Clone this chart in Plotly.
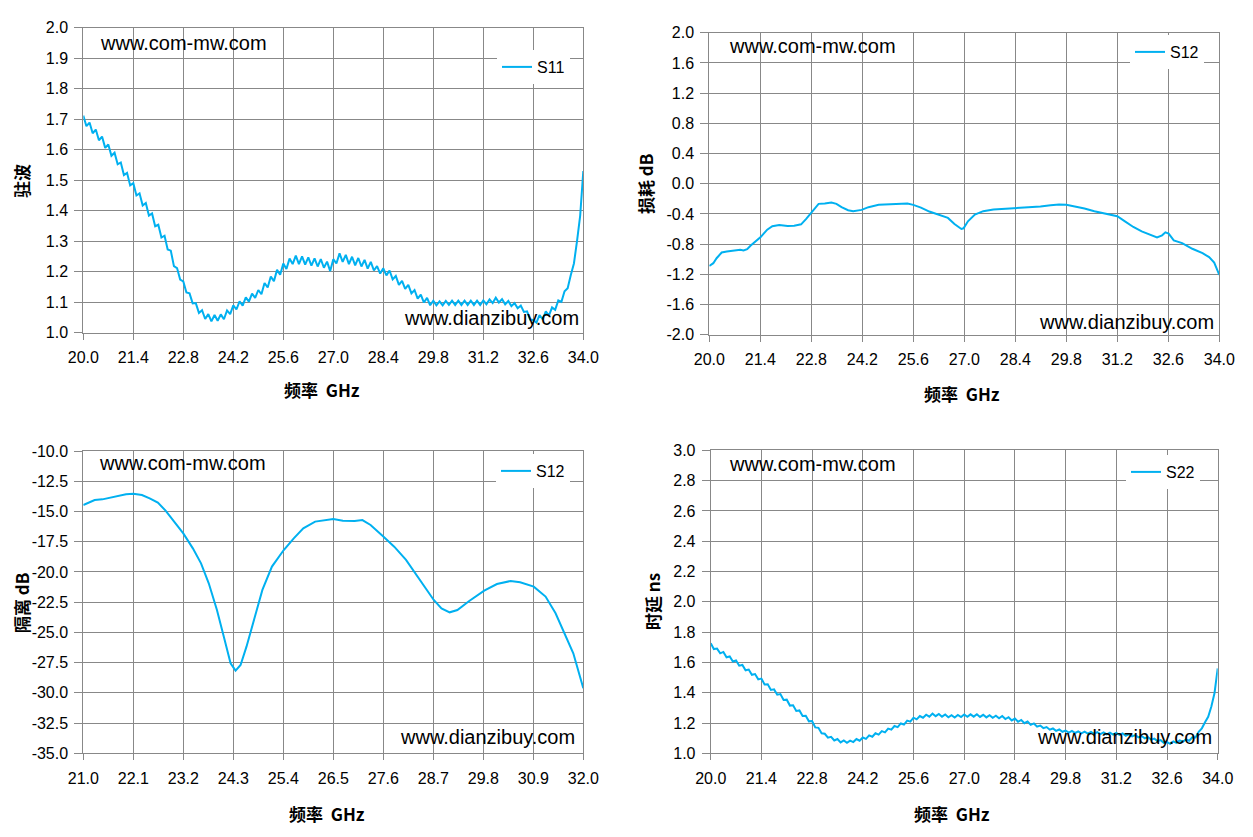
import numpy as np
import plotly.graph_objects as go
from plotly.subplots import make_subplots

# ---- data ----
# S11 VSWR and S22 group delay: sweep 20-34 GHz, 161 points
freq_sweep = np.linspace(20.0, 34.0, 161)

vswr = [
    1.712, 1.677, 1.689, 1.654, 1.666, 1.631, 1.643, 1.606, 1.617, 1.580,
    1.590, 1.552, 1.558, 1.517, 1.524, 1.483, 1.490, 1.450, 1.457, 1.417,
    1.425, 1.384, 1.391, 1.349, 1.354, 1.312, 1.318, 1.273, 1.269, 1.218,
    1.212, 1.174, 1.168, 1.132, 1.129, 1.096, 1.097, 1.065, 1.074, 1.045,
    1.061, 1.037, 1.058, 1.039, 1.060, 1.044, 1.073, 1.061, 1.090, 1.076,
    1.103, 1.089, 1.116, 1.102, 1.128, 1.114, 1.140, 1.126, 1.163, 1.148,
    1.184, 1.169, 1.206, 1.190, 1.227, 1.209, 1.243, 1.225, 1.253, 1.225,
    1.250, 1.223, 1.247, 1.220, 1.244, 1.217, 1.241, 1.213, 1.233, 1.202,
    1.241, 1.227, 1.260, 1.232, 1.255, 1.225, 1.249, 1.221, 1.245, 1.217,
    1.239, 1.210, 1.232, 1.204, 1.218, 1.194, 1.211, 1.188, 1.204, 1.175,
    1.186, 1.157, 1.170, 1.144, 1.157, 1.129, 1.140, 1.112, 1.125, 1.099,
    1.114, 1.090, 1.105, 1.090, 1.103, 1.090, 1.104, 1.091, 1.105, 1.091,
    1.105, 1.091, 1.105, 1.091, 1.105, 1.091, 1.105, 1.091, 1.106, 1.093,
    1.109, 1.097, 1.115, 1.099, 1.110, 1.093, 1.104, 1.087, 1.097, 1.080,
    1.089, 1.068, 1.070, 1.043, 1.042, 1.033, 1.058, 1.044, 1.070, 1.056,
    1.083, 1.075, 1.106, 1.101, 1.136, 1.146, 1.189, 1.227, 1.301, 1.384,
    1.530,
]

delay = [
    1.726, 1.688, 1.691, 1.660, 1.669, 1.634, 1.639, 1.606, 1.613, 1.578,
    1.583, 1.548, 1.553, 1.518, 1.523, 1.488, 1.493, 1.454, 1.456, 1.418,
    1.422, 1.387, 1.391, 1.352, 1.354, 1.315, 1.317, 1.280, 1.283, 1.246,
    1.248, 1.211, 1.213, 1.171, 1.168, 1.132, 1.129, 1.103, 1.109, 1.085,
    1.094, 1.072, 1.085, 1.069, 1.084, 1.074, 1.094, 1.083, 1.104, 1.095,
    1.118, 1.109, 1.132, 1.123, 1.146, 1.138, 1.163, 1.156, 1.180, 1.173,
    1.197, 1.190, 1.216, 1.209, 1.235, 1.224, 1.246, 1.235, 1.255, 1.242,
    1.262, 1.245, 1.260, 1.242, 1.256, 1.238, 1.252, 1.236, 1.253, 1.239,
    1.256, 1.241, 1.257, 1.242, 1.258, 1.240, 1.254, 1.237, 1.251, 1.234,
    1.248, 1.231, 1.246, 1.226, 1.238, 1.217, 1.229, 1.208, 1.220, 1.199,
    1.210, 1.188, 1.197, 1.176, 1.183, 1.166, 1.173, 1.156, 1.164, 1.148,
    1.157, 1.142, 1.150, 1.137, 1.148, 1.134, 1.145, 1.132, 1.143, 1.130,
    1.141, 1.128, 1.139, 1.127, 1.138, 1.125, 1.136, 1.124, 1.135, 1.121,
    1.131, 1.116, 1.126, 1.111, 1.120, 1.105, 1.114, 1.099, 1.107, 1.090,
    1.097, 1.081, 1.087, 1.069, 1.074, 1.063, 1.078, 1.069, 1.085, 1.076,
    1.092, 1.083, 1.106, 1.105, 1.142, 1.165, 1.205, 1.241, 1.309, 1.398,
    1.560,
]

# S12 insertion loss (dB)
loss_freq = [
    20.00, 20.11, 20.20, 20.34, 20.48, 20.67, 20.85, 20.94, 21.04, 21.13,
    21.27, 21.41, 21.59, 21.73, 21.92, 22.15, 22.33, 22.52, 22.66, 22.84,
    23.00, 23.17, 23.35, 23.49, 23.63, 23.81, 23.95, 24.18, 24.37, 24.65,
    24.93, 25.20, 25.44, 25.60, 25.81, 26.04, 26.27, 26.55, 26.73, 26.92,
    26.98, 27.10, 27.29, 27.52, 27.80, 28.07, 28.39, 28.72, 29.09, 29.37,
    29.60, 29.80, 30.02, 30.30, 30.57, 30.85, 31.20, 31.41, 31.64, 31.87,
    32.10, 32.29, 32.43, 32.52, 32.61, 32.75, 32.98, 33.26, 33.54, 33.72,
    33.86, 34.00,
]
loss_db = [
    -1.089, -1.053, -0.987, -0.911, -0.898, -0.889, -0.876, -0.884, -0.867, -0.822,
    -0.764, -0.707, -0.609, -0.564, -0.547, -0.560, -0.556, -0.538, -0.467, -0.364,
    -0.267, -0.262, -0.249, -0.267, -0.311, -0.351, -0.364, -0.347, -0.311, -0.280,
    -0.271, -0.267, -0.262, -0.280, -0.316, -0.369, -0.404, -0.453, -0.533, -0.600,
    -0.591, -0.498, -0.409, -0.364, -0.342, -0.333, -0.329, -0.320, -0.302, -0.284,
    -0.276, -0.280, -0.298, -0.329, -0.364, -0.396, -0.431, -0.498, -0.573, -0.631,
    -0.680, -0.711, -0.684, -0.644, -0.662, -0.751, -0.787, -0.862, -0.920, -0.973,
    -1.044, -1.209,
]

# S12 isolation (dB), 21-32 GHz
iso_freq = [
    21.00, 21.12, 21.25, 21.42, 21.60, 21.77, 21.94, 22.10, 22.29, 22.46,
    22.64, 22.81, 22.98, 23.20, 23.41, 23.59, 23.76, 23.94, 24.11, 24.24,
    24.35, 24.46, 24.59, 24.76, 24.94, 25.15, 25.41, 25.63, 25.84, 26.10,
    26.37, 26.50, 26.71, 26.97, 27.14, 27.32, 27.60, 27.84, 28.10, 28.36,
    28.71, 28.88, 29.06, 29.23, 29.49, 29.82, 30.10, 30.40, 30.61, 30.91,
    31.17, 31.39, 31.61, 31.78, 32.00,
]
iso_db = [
    -14.47, -14.27, -14.05, -14.00, -13.86, -13.69, -13.58, -13.53, -13.64, -13.91,
    -14.27, -14.93, -15.71, -16.81, -18.05, -19.29, -20.94, -23.15, -25.63, -27.56,
    -28.16, -27.70, -26.18, -23.84, -21.49, -19.56, -18.19, -17.22, -16.39, -15.84,
    -15.65, -15.62, -15.76, -15.79, -15.71, -16.12, -17.08, -17.91, -19.01, -20.39,
    -22.32, -23.01, -23.34, -23.15, -22.40, -21.55, -21.00, -20.75, -20.86, -21.22,
    -22.04, -23.42, -25.21, -26.73, -29.62,
]

# tick labels
f_ticks_a = [20.0, 21.4, 22.8, 24.2, 25.6, 27.0, 28.4, 29.8, 31.2, 32.6, 34.0]
f_ticks_b = [21.0, 22.1, 23.2, 24.3, 25.4, 26.5, 27.6, 28.7, 29.8, 30.9, 32.0]
vswr_ticks = [1.0, 1.1, 1.2, 1.3, 1.4, 1.5, 1.6, 1.7, 1.8, 1.9, 2.0]
loss_ticks = [-2.0, -1.6, -1.2, -0.8, -0.4, 0.0, 0.4, 0.8, 1.2, 1.6, 2.0]
iso_ticks = [-35.0, -32.5, -30.0, -27.5, -25.0, -22.5, -20.0, -17.5, -15.0, -12.5, -10.0]
delay_ticks = [1.0, 1.2, 1.4, 1.6, 1.8, 2.0, 2.2, 2.4, 2.6, 2.8, 3.0]

# ---- layout helpers (screen pixel -> paper) ----
# the page puts the figure 8px in from the top-left corner
PAGE_W, PAGE_H = 1253, 837
OFF = 8
W, H = PAGE_W - OFF, PAGE_H - OFF


def px(x):
    return (x - OFF) / W


def py(y):
    return 1 - (y - OFF) / H


LINE = '#00B0F0'
GRID = '#888888'
TICK_FONT = dict(family='Liberation Sans, Arial', size=16, color='black')
TITLE_FONT = dict(family='Noto Sans CJK SC', size=17, color='black', weight='bold')
MARK_FONT = dict(family='Liberation Sans, Arial', size=20, color='black')

fig = make_subplots(rows=2, cols=2)

panels = [
    # row, col, x, y, name, legend, x domain px, y domain px, xticks, yticks
    (1, 1, freq_sweep, vswr, 'S11', 'legend', (83.3, 583.3), (27.7, 332.7), f_ticks_a, vswr_ticks),
    (1, 2, loss_freq, loss_db, 'S12', 'legend2', (709.3, 1219.3), (32.7, 334.7), f_ticks_a, loss_ticks),
    (2, 1, iso_freq, iso_db, 'S12', 'legend3', (83.3, 583.3), (451.0, 753.3), f_ticks_b, iso_ticks),
    (2, 2, freq_sweep, delay, 'S22', 'legend4', (710.7, 1217.7), (450.3, 753.3), f_ticks_a, delay_ticks),
]

legend_pos = {
    'legend': (497, 67),
    'legend2': (1130, 52),
    'legend3': (496, 471),
    'legend4': (1126, 472),
}

for row, col, xs, ys, name, leg, xd, yd, xt, yt in panels:
    fig.add_trace(
        go.Scatter(x=xs, y=ys, mode='lines', name=name, legend=leg,
                   line=dict(color=LINE, width=2), showlegend=True),
        row=row, col=col,
    )
    fig.update_xaxes(
        domain=[px(xd[0]), px(xd[1])], range=[xt[0], xt[-1]], automargin=False,
        tickvals=xt, ticktext=['{:.1f}'.format(v) for v in xt],
        showgrid=True, gridcolor=GRID, gridwidth=1,
        showline=True, linecolor=GRID, linewidth=1, mirror=True,
        ticks='outside', ticklen=6, tickcolor=GRID, tickfont=TICK_FONT,
        ticklabelstandoff=4, zeroline=False,
        row=row, col=col,
    )
    fig.update_yaxes(
        domain=[py(yd[1]), py(yd[0])], range=[yt[0], yt[-1]], automargin=False,
        tickvals=yt, ticktext=['{:.1f}'.format(v + 0.0) for v in yt],
        showgrid=True, gridcolor=GRID, gridwidth=1,
        showline=True, linecolor=GRID, linewidth=1, mirror=True,
        ticks='outside', ticklen=8, tickcolor=GRID, tickfont=TICK_FONT,
        ticklabelstandoff=3, zeroline=False,
        row=row, col=col,
    )
    lx, ly = legend_pos[leg]
    fig.update_layout({leg: dict(
        x=px(lx), y=py(ly), xanchor='left', yanchor='middle',
        bgcolor='white', borderwidth=0,
        font=dict(family='Liberation Sans, Arial', size=16, color='black'),
    )})

# axis titles
x_titles = [(322, 389), (962, 393), (327, 813), (952, 813)]
for x, y in x_titles:
    fig.add_annotation(
        text='频率  GHz', x=px(x), y=py(y), xref='paper', yref='paper',
        xanchor='center', yanchor='middle', showarrow=False, font=TITLE_FONT,
    )
y_titles = [('驻波', 21, 181), ('损耗 dB', 646, 184), ('隔离 dB', 21, 603), ('时延 ns', 652, 602)]
for text, x, y in y_titles:
    fig.add_annotation(
        text=text, x=px(x), y=py(y), xref='paper', yref='paper', textangle=-90,
        xanchor='center', yanchor='middle', showarrow=False, font=TITLE_FONT,
    )

# watermarks
marks = [
    ('www.com-mw.com', 98, 43),
    ('www.dianzibuy.com', 402, 318),
    ('www.com-mw.com', 727, 46),
    ('www.dianzibuy.com', 1037, 322),
    ('www.com-mw.com', 97, 463),
    ('www.dianzibuy.com', 398, 737),
    ('www.com-mw.com', 727, 464),
    ('www.dianzibuy.com', 1035, 737),
]
for text, x, y in marks:
    fig.add_annotation(
        text=text, x=px(x), y=py(y), xref='paper', yref='paper',
        xanchor='left', yanchor='middle', showarrow=False, font=MARK_FONT,
    )

fig.update_layout(
    width=W, height=H,
    margin=dict(l=0, r=0, t=0, b=0),
    paper_bgcolor='white', plot_bgcolor='white',
)

fig.write_html('out.html')
